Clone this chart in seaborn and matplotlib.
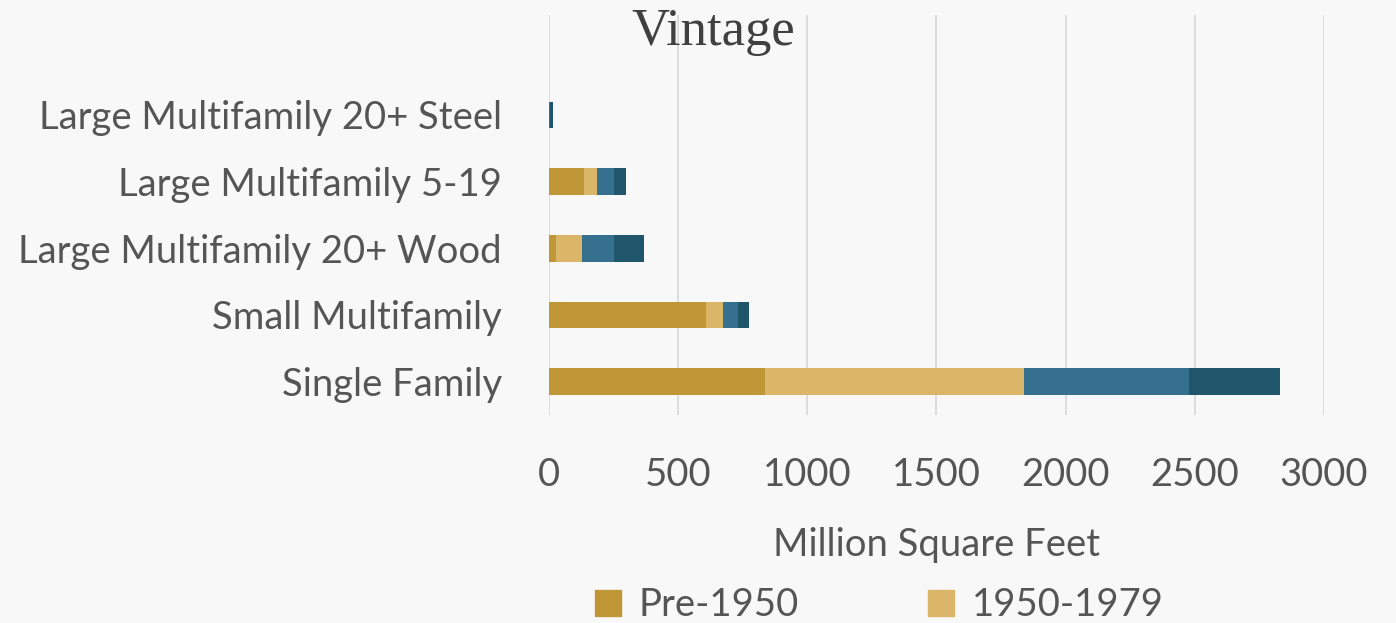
import matplotlib
matplotlib.use('Agg')
import matplotlib.pyplot as plt
import numpy as np
import pandas as pd
import seaborn as sns
from matplotlib.lines import Line2D

# data (million square feet)
building_types = ['Large Multifamily 20+ Steel', 'Large Multifamily 5-19',
                  'Large Multifamily 20+ Wood', 'Small Multifamily', 'Single Family']
vintages = ['Pre-1950', '1950-1979', '1980-1999', '2000+']
pre_1950 = [0, 135, 27, 608, 836]
v_1950_1979 = [0, 52, 101, 65, 1002]
v_1980_1999 = [3, 63, 122, 57, 639]
v_2000_plus = [14, 47, 118, 43, 352]

colors = ['#C09737', '#DCB668', '#35718F', '#1F566B']
bg = '#F8F8F8'
text_col = '#555555'


def create_df():
    df = pd.DataFrame({'type': building_types,
                       vintages[0]: pre_1950,
                       vintages[1]: v_1950_1979,
                       vintages[2]: v_1980_1999,
                       vintages[3]: v_2000_plus})
    # cumulative totals so the layers stack when drawn from the top down
    cum = df[vintages].cumsum(axis=1)
    cum['type'] = df['type']
    return cum


def plot_stacked_bars():
    sns.set_style('white')
    plt.rcParams['font.family'] = ['Lato', 'DejaVu Sans']

    fig = plt.figure(figsize=(13.96, 6.23), dpi=100, facecolor=bg)
    ax = fig.add_axes([549 / 1396, 1 - 415 / 623, (1324 - 549) / 1396, 400 / 623])
    ax.set_facecolor(bg)

    cum = create_df()
    for i in range(len(vintages) - 1, -1, -1):
        sns.barplot(data=cum, x=vintages[i], y='type', order=building_types,
                    orient='h', color=colors[i], saturation=1, width=0.4,
                    linewidth=0, ax=ax)

    ax.set_xlim(0, 3000)
    ax.set_ylim(4.5, -1.5)
    ax.set_xticks(np.arange(0, 3001, 500))
    ax.grid(axis='x', color='#D9D9D9', linewidth=1.3)
    ax.set_axisbelow(True)
    for s in ax.spines.values():
        s.set_visible(False)

    ax.tick_params(axis='both', length=0, labelsize=27.5, labelcolor=text_col)
    ax.tick_params(axis='x', pad=30)
    ax.tick_params(axis='y', pad=34)
    ax.set_ylabel('')
    ax.set_xlabel('Million Square Feet', fontsize=27.5, color=text_col, labelpad=25)

    fig.text(713 / 1396, 1 - 32 / 623, 'Vintage', fontsize=38, color='#404040',
             family='Liberation Serif', ha='center', va='center')

    # legend filled column-wise: order so the first row reads Pre-1950, 1950-1979
    order = [0, 2, 1, 3]
    handles = [Line2D([], [], marker='s', linestyle='', markersize=19,
                      color=colors[k]) for k in order]
    fig.legend(handles, [vintages[k] for k in order], loc='upper left', ncol=2,
               frameon=False, bbox_to_anchor=(591 / 1396, 1 - 587 / 623),
               fontsize=27.5, labelcolor=text_col, columnspacing=2.45,
               handletextpad=0.35, handlelength=0.9, borderaxespad=0,
               borderpad=0, labelspacing=1.5)

    fig.savefig('out.png', dpi=100, facecolor=bg)


if __name__ == '__main__':
    plot_stacked_bars()
